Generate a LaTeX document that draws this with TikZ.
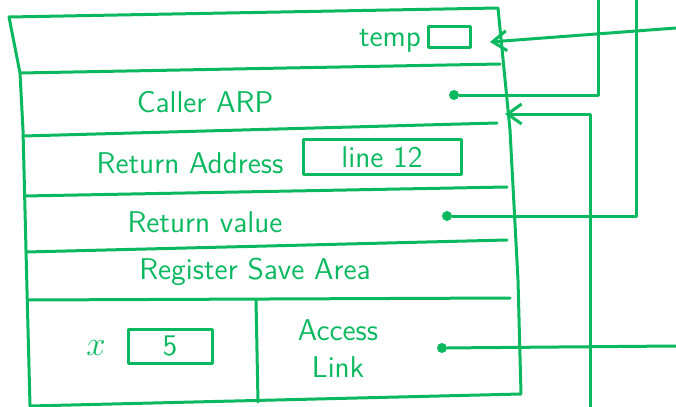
\documentclass[tikz,border=0pt]{standalone}
\usepackage{tikz}
\usetikzlibrary{arrows.meta, positioning}
\definecolor{pen}{RGB}{10,185,95}

\begin{document}
\begin{tikzpicture}[
    x=0.5pt, y=-0.5pt,
    pen/.style={draw=pen, line width=1.5pt, line cap=round, line join=round},
    field/.style={text=pen, font=\sffamily\fontsize{15}{18.5}\selectfont, inner sep=0pt, align=center},
    slot/.style={pen, rectangle, inner sep=0pt, text=pen, font=\sffamily\fontsize{15}{16}\selectfont},
    dot/.style={circle, fill=pen, inner sep=0pt, minimum size=5pt},
    arrow/.style={pen, -{Straight Barb[length=7pt, width=10pt, line width=1.5pt]}},
    link/.style={pen}
]
\useasboundingbox (0,0) rectangle (676,407);

% Frame of the activation record
\draw[pen] (9,17) -- (498,8) -- (510,130) -- (518,280) -- (521,394) -- (30,406) -- (27,290) -- (23,130) -- (20,73) -- cycle;

% Row separators
\draw[pen] (20,73) -- (500,64);
\draw[pen] (23,136) -- (497,123);
\draw[pen] (24,196) -- (507,187);
\draw[pen] (26,252) -- (507,240);
\draw[pen] (28,300) -- (510,298);
\draw[pen] (256,300) -- (258,402);

% Fields
\node[field] (temp) at (390,41) {temp};
\node[slot, minimum width=21pt, minimum height=10.5pt] (tempslot) at (449,37) {};
\node[field] (caller) at (205,102) {Caller ARP};
\node[field] (retaddr) at (190,163) {Return Address};
\node[slot, minimum width=79pt, minimum height=17.5pt] (lineslot) at (382,157) {line 12};
\node[field] (retval) at (205,222) {Return value};
\node[field] (regsave) at (255,272) {Register Save Area};
\node[field, font=\fontsize{17}{18}\selectfont] (xvar) at (96,348) {$x$};
\node[slot, minimum width=42pt, minimum height=17pt] (xslot) at (170,346) {5};
\node[field] (access) at (338,349) {Access\\Link};

% Pointer ends
\node[dot] (arpdot) at (454,95) {};
\node[dot] (rvdot) at (447,216) {};
\node[dot] (aldot) at (442,348) {};

\coordinate (tempin) at (676,28);
\coordinate (temptip) at (490,42);
\coordinate (arpup) at (598,0);
\coordinate (rvup) at (636,0);
\coordinate (dlfrom) at (590,407);
\coordinate (dltip) at (505,114);
\coordinate (alout) at (676,346);

% Connectors
\draw[arrow] (tempin) -- (temptip);
\draw[link] (arpdot) -| (arpup);
\draw[arrow] (dlfrom) |- (dltip);
\draw[link] (rvdot) -| (rvup);
\draw[link] (aldot) -- (alout);

\end{tikzpicture}
\end{document}
